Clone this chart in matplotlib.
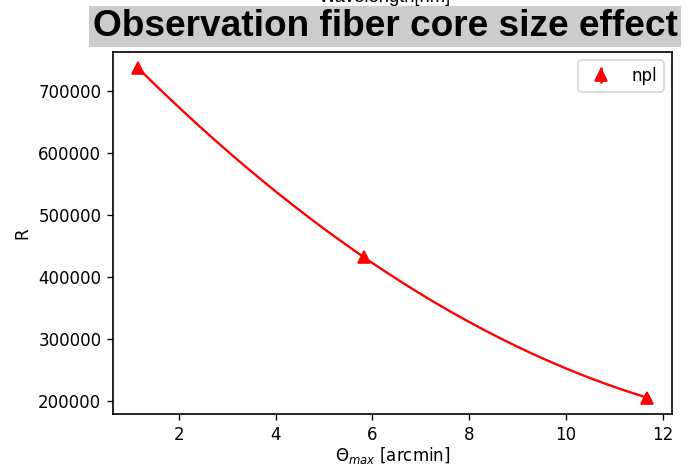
import numpy as np
import matplotlib
matplotlib.use("Agg")
import matplotlib.pyplot as plt

# Field of view (arcmin) and resolving power for each fiber core
theta_max = [7 / 6, 35 / 6, 70 / 6]
resolution = [737000, 432000, 206000]
series_label = "npl"

DPI = 120
fig = plt.figure(figsize=(684 / DPI, 469 / DPI), dpi=DPI)
ax = fig.add_axes([0.1652, 0.1173, 0.8173, 0.7719])

# smooth quadratic through the three measured points
coef = np.polyfit(theta_max, resolution, 2)
xs = np.linspace(theta_max[0], theta_max[-1], 200)
ax.plot(xs, np.polyval(coef, xs), color="red", lw=1.4)

ax.errorbar(theta_max, resolution, yerr=[0, 0, 0], fmt="^", color="red",
            ms=7.5, label=series_label)

ax.set_xlabel(r"$\Theta_{max}$ [arcmin]", labelpad=1)
ax.set_ylabel("R")
ax.legend(loc="upper right")
for s in ax.spines.values():
    s.set_linewidth(1.0)

fig.text(0.563, 1 - 2 / 469, "Wavelength[nm]", ha="center", va="baseline",
         fontsize=11, family="Liberation Sans")
fig.text(0.563, 1 - 36 / 469, "Observation fiber core size effect",
         ha="center", va="baseline", fontsize=22.2, fontweight="bold",
         family="Liberation Sans",
         bbox=dict(facecolor="#cccccc", edgecolor="none", pad=2))

fig.savefig("out.png", dpi=DPI)
